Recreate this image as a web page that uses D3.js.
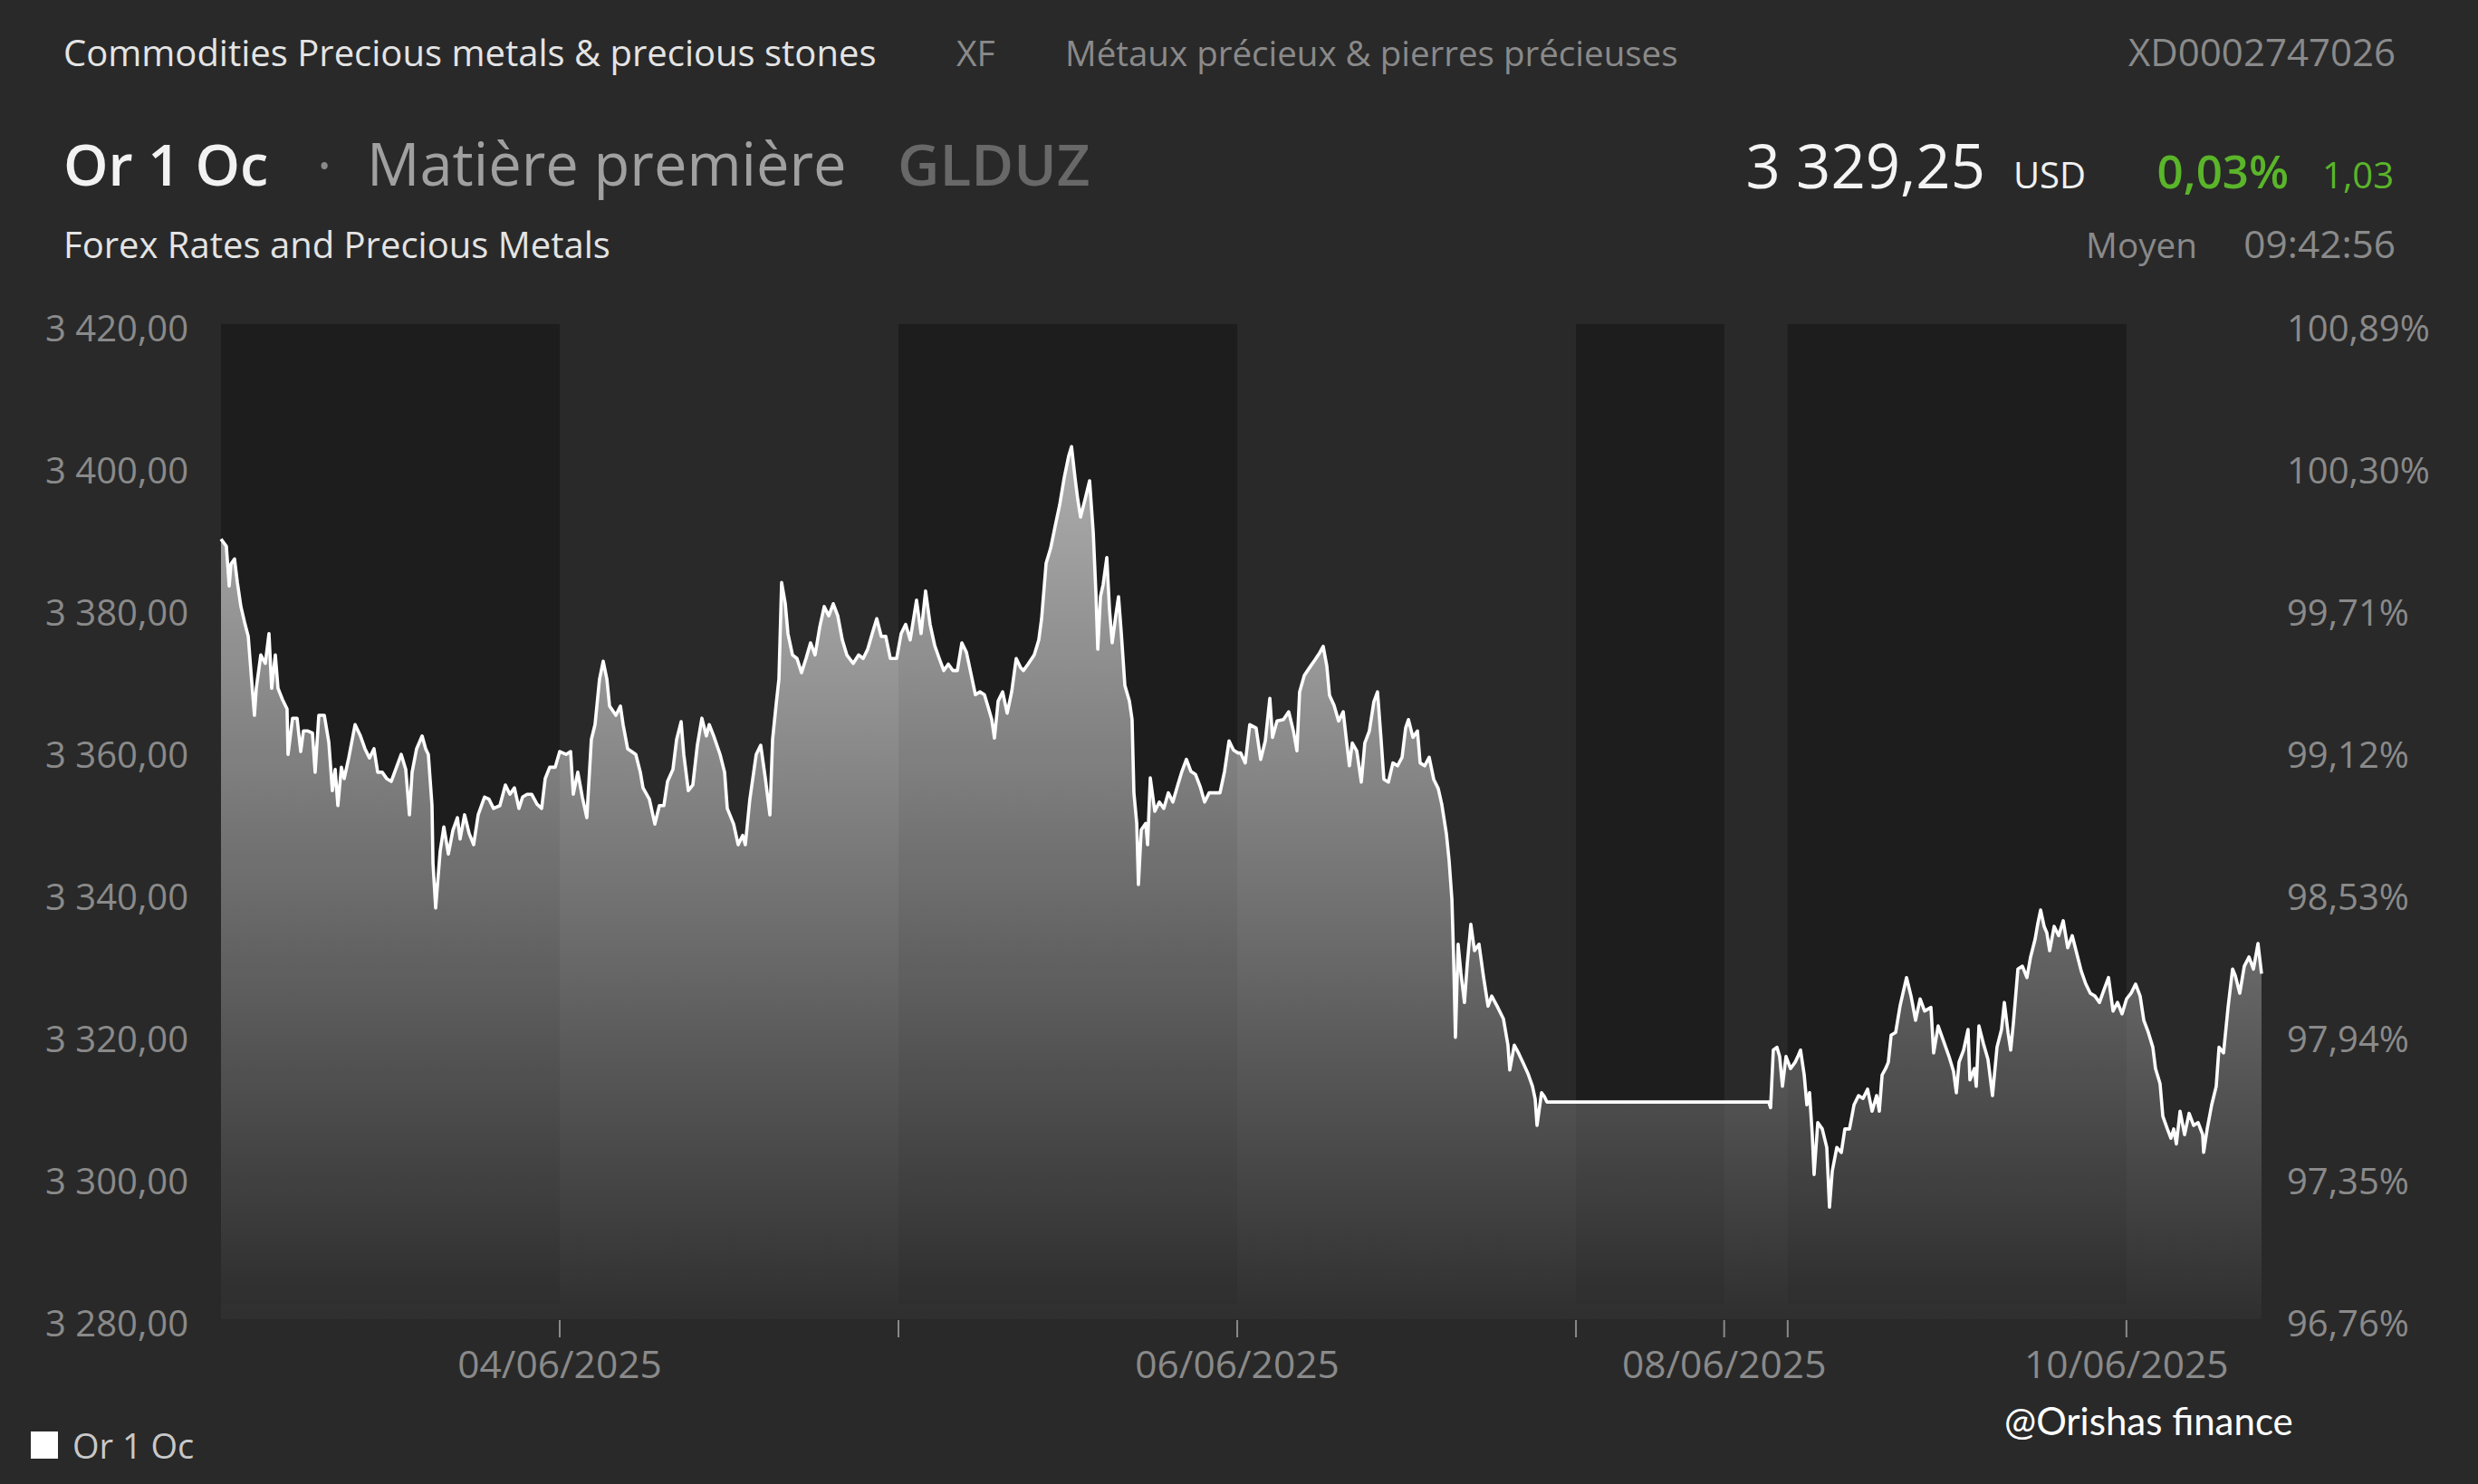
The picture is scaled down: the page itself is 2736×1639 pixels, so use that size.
<!DOCTYPE html>
<html><head><meta charset="utf-8">
<script src="https://cdn.jsdelivr.net/npm/d3@7"></script>
<style>
html,body{margin:0;padding:0;background:#292929;}
svg{display:block;}
</style></head><body>
<svg id="chart" width="2736" height="1639"></svg>
<script>
// ---- DATA ----
// x = trading-session hours since 03/06/2025 00:00 on the chart's compressed time axis
const sessionHours = [
0,0.38,0.58,0.71,0.96,1.16,1.41,1.67,1.93,2.18,2.37,2.5,2.82,3.14,3.4,3.59,3.85,4.04,4.36,4.68,4.75,5.07,5.39,5.65,5.84,6.16,6.48,6.67,6.93,7.32,7.64,7.89,8.09,8.28,8.53,8.73,9.05,9.5,9.88,10.2,10.52,10.84,11.1,11.42,11.74,12.06,12.38,12.77,13.09,13.35,13.54,13.86,14.25,14.5,14.69,14.95,15.02,15.21,15.34,15.53,15.79,16.11,16.43,16.75,16.94,17.26,17.58,17.9,18.22,18.67,18.99,19.31,19.76,20.15,20.47,20.79,21.11,21.37,21.69,22.01,22.39,22.72,22.97,23.29,23.68,24,
24.45,24.77,24.96,25.28,25.6,25.92,26.24,26.5,26.82,27.08,27.34,27.53,27.98,28.3,28.49,28.81,29.39,29.71,29.9,30.35,30.74,31.06,31.38,31.64,32.02,32.28,32.6,32.79,33.11,33.43,33.75,34.07,34.39,34.59,34.91,35.36,35.68,35.87,36.32,36.64,36.96,37.15,37.47,37.92,38.24,38.57,38.89,39.08,39.34,39.53,39.72,39.98,40.17,40.49,40.81,41.13,41.45,41.77,42.09,42.42,42.74,43.06,43.38,43.7,44.02,44.34,44.79,45.18,45.5,45.82,46.14,46.46,46.78,47.1,47.42,47.87,48.19,
48.51,48.83,49.28,49.6,49.92,50.24,50.57,50.89,51.21,51.53,51.85,52.17,52.49,52.81,53.13,53.45,53.77,54.09,54.42,54.61,54.8,55.06,55.38,55.7,56.02,56.34,56.66,56.85,57.18,57.62,57.94,58.14,58.46,58.78,59.1,59.42,59.74,60.06,60.26,60.51,60.7,60.9,61.22,61.54,61.8,61.99,62.12,62.31,62.5,62.76,62.95,63.14,63.4,63.59,63.79,64.04,64.36,64.55,64.68,64.88,65,65.2,65.52,65.65,65.84,66.16,66.48,66.8,67.12,67.44,67.76,68.08,68.4,68.72,69.04,69.37,69.69,70.01,70.33,70.78,71.1,71.42,71.74,72.06,
72.25,72.57,72.89,73.34,73.66,73.99,74.31,74.5,74.82,75.27,75.65,75.98,76.23,76.42,76.75,77.19,77.51,77.84,78.09,78.35,78.54,78.86,79.18,79.51,79.76,79.95,80.15,80.47,80.79,81.04,81.36,81.68,81.94,82.2,82.39,82.71,83.03,83.36,83.68,83.93,84.13,84.45,84.77,84.96,85.28,85.6,85.92,86.24,86.5,86.82,87.01,87.21,87.33,87.46,87.65,87.85,88.1,88.3,88.55,88.81,89.13,89.45,89.77,90.03,90.41,90.86,91.18,91.31,91.63,91.95,92.28,92.6,92.92,93.11,93.24,93.56,93.75,93.94,
109.66,109.79,109.98,110.24,110.43,110.63,110.88,111.2,111.53,111.72,111.91,112.17,112.36,112.55,112.74,112.87,113.13,113.45,113.77,113.96,114.16,114.48,114.8,115.05,115.38,115.7,116.02,116.34,116.66,116.98,117.3,117.49,117.69,117.94,118.13,118.33,118.65,118.97,119.42,119.74,120.06,120.38,
120.7,121.15,121.34,121.66,121.98,122.43,122.75,122.95,123.14,123.46,123.78,123.91,124.23,124.36,124.55,124.87,125.19,125.51,125.83,126.15,126.35,126.61,126.8,126.99,127.31,127.63,127.95,128.21,128.53,128.72,128.92,129.17,129.36,129.56,129.88,130.2,130.52,130.84,131.16,131.48,131.8,132.12,132.44,132.77,133.09,133.41,133.73,134.05,134.37,134.69,135.01,135.33,135.65,135.97,136.23,136.55,136.87,137.06,137.38,137.58,137.9,138.15,138.35,138.54,138.8,139.12,139.44,139.76,140.08,140.4,140.47,140.72,141.04,141.36,141.56,141.88,142.2,142.52,142.71,143.03,143.35,143.68,144,144.32,144.57
];
const prices = [
3390.4,3389.4,3383.8,3386.9,3387.6,3384.3,3380.9,3378.7,3376.7,3370.3,3365.6,3369.4,3374.1,3372.9,3377.1,3369.4,3374.1,3369.4,3367.8,3366.5,3360.1,3365.2,3365.2,3360.5,3363.4,3363.4,3363.1,3357.6,3365.6,3365.6,3361.8,3355.0,3358.0,3352.9,3358.3,3356.7,3359.6,3364.3,3362.7,3360.9,3359.6,3360.9,3357.6,3357.6,3356.7,3356.3,3358.0,3360.1,3358.0,3351.6,3357.6,3360.9,3362.7,3360.9,3360.1,3352.9,3344.8,3338.5,3341.8,3346.5,3349.9,3346.1,3349.4,3351.2,3348.2,3351.6,3349.0,3347.4,3351.6,3354.1,3353.8,3352.5,3352.9,3355.8,3354.5,3355.4,3352.5,3354.1,3354.5,3354.5,3353.1,3352.5,3356.7,3358.3,3358.3,3360.5,
3360.1,3360.5,3354.5,3357.6,3354.1,3351.2,3362.2,3364.3,3370.7,3373.2,3370.7,3366.9,3365.6,3366.9,3364.3,3360.9,3360.1,3357.6,3355.4,3353.8,3350.3,3352.9,3352.9,3356.3,3358.0,3362.2,3364.7,3360.1,3355.0,3355.8,3361.4,3365.2,3362.7,3364.3,3362.7,3360.1,3357.6,3352.5,3350.3,3347.4,3348.7,3347.4,3353.8,3360.1,3361.4,3356.7,3351.6,3362.2,3367.3,3370.7,3384.3,3381.3,3377.1,3374.1,3373.6,3371.6,3373.6,3375.8,3374.1,3378.0,3380.9,3379.6,3381.3,3379.6,3376.2,3374.1,3372.9,3374.1,3373.6,3374.9,3377.1,3379.2,3376.7,3376.7,3373.6,3373.6,3377.1,
3378.4,3376.2,3381.8,3377.1,3383.1,3378.4,3375.4,3373.6,3371.9,3372.8,3371.9,3371.9,3375.8,3374.5,3371.5,3368.5,3368.9,3368.5,3366.3,3365.0,3362.4,3367.6,3368.9,3365.9,3368.9,3373.6,3372.3,3371.9,3372.8,3374.1,3376.2,3379.2,3387.0,3389.1,3392.2,3395.2,3399.0,3402.1,3403.4,3399.0,3396.0,3393.5,3396.0,3398.6,3391.3,3382.7,3374.9,3382.3,3384.0,3387.8,3380.5,3375.8,3379.7,3382.3,3377.1,3369.8,3367.6,3365.0,3354.7,3350.4,3341.8,3349.5,3350.4,3347.4,3356.8,3352.1,3353.4,3352.5,3354.7,3353.4,3355.6,3357.7,3359.4,3357.7,3357.3,3355.6,3353.4,3354.7,3354.7,3354.7,3357.7,3362.0,3360.7,3360.3,
3360.3,3358.9,3364.3,3363.8,3359.4,3362.0,3368.0,3362.5,3364.8,3365.0,3366.1,3363.4,3360.6,3368.9,3371.2,3372.5,3373.4,3374.4,3375.3,3372.5,3368.4,3367.0,3364.8,3366.1,3361.7,3358.5,3361.7,3360.6,3356.2,3361.7,3363.4,3367.5,3368.9,3362.0,3356.6,3356.2,3358.9,3358.5,3359.7,3363.8,3365.0,3362.5,3363.4,3358.9,3358.5,3359.7,3356.6,3355.3,3353.0,3348.9,3345.2,3339.7,3331.6,3320.3,3333.4,3329.3,3325.2,3330.7,3336.2,3332.5,3333.4,3328.8,3324.7,3326.1,3324.7,3322.9,3319.2,3315.7,3319.2,3318.0,3316.6,3315.2,3313.4,3311.6,3307.9,3312.5,3312.0,3311.2,
3311.2,3310.4,3318.5,3318.9,3317.6,3313.4,3317.6,3315.9,3316.8,3317.6,3318.5,3315.0,3310.8,3312.5,3306.6,3301.0,3308.3,3307.4,3304.8,3296.4,3301.5,3304.8,3304.1,3307.4,3307.4,3310.8,3312.1,3311.7,3313.0,3309.9,3312.1,3309.9,3315.0,3315.9,3316.8,3320.6,3321.0,3324.8,3328.7,3326.1,3322.7,3325.7,
3324.0,3324.5,3318.1,3321.9,3320.1,3317.6,3315.5,3312.5,3316.8,3318.5,3321.4,3314.3,3315.9,3313.4,3321.9,3319.4,3317.2,3312.1,3318.9,3321.4,3325.2,3321.0,3318.5,3322.3,3329.9,3330.3,3328.7,3331.6,3334.1,3336.3,3338.2,3335.9,3335.0,3332.5,3335.9,3334.6,3336.7,3332.9,3334.6,3332.1,3329.6,3327.8,3326.5,3326.1,3325.2,3327.0,3328.7,3324.0,3325.2,3323.6,3325.7,3326.5,3327.8,3326.1,3322.7,3321.0,3318.9,3315.9,3313.8,3309.2,3307.4,3306.1,3307.4,3305.3,3309.9,3306.6,3309.6,3307.9,3308.3,3306.6,3304.1,3307.4,3310.8,3313.4,3318.9,3318.1,3324.5,3329.9,3329.0,3326.5,3330.3,3331.6,3329.9,3333.5,3329.25
];
const dayStartHours = [0, 24, 48, 72, 96, 106.5, 111, 135];
const dayLabels = ["03/06/2025","04/06/2025","05/06/2025","06/06/2025","07/06/2025","08/06/2025","09/06/2025","10/06/2025"];
const labelledDays = ["04/06/2025","06/06/2025","08/06/2025","10/06/2025"];
const sessionEndHour = 144.7;
const priceTicks = [3280, 3300, 3320, 3340, 3360, 3380, 3400, 3420];
const percentTickLabels = ["96,76%","97,35%","97,94%","98,53%","99,12%","99,71%","100,30%","100,89%"];
const seriesName = "Or 1 Oc";

// ---- LAYOUT ----
const W = 2736, H = 1639;
const plot = {left: 244, right: 2499, top: 358, bottom: 1457, darkBottom: 1440};
const FONT = "'Open Sans', Roboto, sans-serif";
const svg = d3.select("#chart");
svg.append("rect").attr("width", W).attr("height", H).attr("fill", "#292929");

const x = d3.scaleLinear().domain([0, sessionEndHour]).range([plot.left, plot.right]);
const y = d3.scaleLinear().domain([3280, 3420]).range([1462, 363]);
const fr = d3.formatLocale({decimal: ",", thousands: " ", grouping: [3], currency: ["", ""]});
const fmtPrice = fr.format(",.2f");

const data = sessionHours.map((h, i) => ({h, v: prices[i]}));

// gradient
const defs = svg.append("defs");
const grad = defs.append("linearGradient").attr("id", "areaGrad")
  .attr("gradientUnits", "userSpaceOnUse").attr("x1", 0).attr("x2", 0)
  .attr("y1", plot.top).attr("y2", plot.bottom);
grad.append("stop").attr("offset", "0%").attr("stop-color", "#cdcdcd");
grad.append("stop").attr("offset", "100%").attr("stop-color", "#2f2f2f");

// day bands
const days = dayStartHours.map((s, i) => ({label: dayLabels[i], start: s, end: i < dayStartHours.length - 1 ? dayStartHours[i + 1] : sessionEndHour, i}));
svg.append("g").selectAll("rect").data(days.filter(d => d.i % 2 === 0)).join("rect")
  .attr("x", d => x(d.start)).attr("width", d => x(d.end) - x(d.start))
  .attr("y", plot.top).attr("height", plot.darkBottom - plot.top)
  .attr("fill", "#1f1f1f");

// area + line
const area = d3.area().x(d => x(d.h)).y0(plot.bottom).y1(d => y(d.v));
const line = d3.line().x(d => x(d.h)).y(d => y(d.v));
svg.append("path").datum(data).attr("d", area).attr("fill", "url(#areaGrad)");
// dark band tint over area
svg.append("g").selectAll("rect").data(days.filter(d => d.i % 2 === 0)).join("rect")
  .attr("x", d => x(d.start)).attr("width", d => x(d.end) - x(d.start))
  .attr("y", plot.top).attr("height", plot.darkBottom - plot.top)
  .attr("fill", "#000").attr("opacity", 0.06);
svg.append("path").datum(data).attr("d", line).attr("fill", "none")
  .attr("stroke", "#ffffff").attr("stroke-width", 3.6).attr("stroke-linejoin", "round");

// left axis labels
svg.append("g").selectAll("text").data(priceTicks).join("text")
  .attr("x", 208).attr("y", d => y(d) + 14).attr("text-anchor", "end")
  .attr("font-family", FONT).attr("font-size", 40).attr("fill", "#8a8a8a")
  .text(d => fmtPrice(d));
// right axis labels
svg.append("g").selectAll("text").data(priceTicks).join("text")
  .attr("x", 2525).attr("y", d => y(d) + 14).attr("text-anchor", "start")
  .attr("font-family", FONT).attr("font-size", 40).attr("fill", "#8a8a8a")
  .text((d, i) => percentTickLabels[i]);

// x ticks at day boundaries
svg.append("g").selectAll("line").data(days.slice(1)).join("line")
  .attr("x1", d => x(d.start)).attr("x2", d => x(d.start))
  .attr("y1", 1458).attr("y2", 1477).attr("stroke", "#8a8a8a").attr("stroke-width", 2);
svg.append("g").selectAll("text").data(days.filter(d => labelledDays.includes(d.label))).join("text")
  .attr("x", d => x(d.start)).attr("y", 1522).attr("text-anchor", "middle")
  .attr("font-family", FONT).attr("font-size", 42.5).attr("fill", "#8a8a8a")
  .text(d => d.label);

// header
function txt(t, xx, yy, size, fill, opts = {}) {
  return svg.append("text").attr("x", xx).attr("y", yy).attr("font-family", opts.family || FONT)
    .attr("font-size", size).attr("fill", fill).attr("font-weight", opts.weight || 400)
    .attr("text-anchor", opts.anchor || "start").text(t);
}
txt("Commodities Precious metals & precious stones", 70, 73, 40, "#e4e4e4");
txt("XF", 1056, 73, 39, "#8a8a8a");
txt("Métaux précieux & pierres précieuses", 1176, 73, 38.5, "#8a8a8a");
txt("XD0002747026", 2645, 73, 42, "#8a8a8a", {anchor: "end"});

txt(seriesName, 70, 205, 63, "#f2f2f2", {weight: 600});
txt("·", 350, 205, 62, "#8a8a8a");
txt("Matière première", 405, 205, 65, "#a0a0a0");
txt("GLDUZ", 991, 205, 64, "#686868", {weight: 600});

txt("3 329,25", 2192, 208, 67, "#f4f4f4", {anchor: "end"});
txt("USD", 2303, 208, 40, "#f0f0f0", {anchor: "end"});
txt("0,03%", 2527, 208, 51, "#5ab52a", {anchor: "end", weight: 600});
txt("1,03", 2643, 208, 40, "#5ab52a", {anchor: "end"});

txt("Forex Rates and Precious Metals", 70, 285, 40, "#e4e4e4");
txt("Moyen", 2426, 285, 38.7, "#8a8a8a", {anchor: "end"});
txt("09:42:56", 2645, 285, 42.4, "#8a8a8a", {anchor: "end"});

// legend
svg.append("rect").attr("x", 34).attr("y", 1581).attr("width", 30).attr("height", 30).attr("fill", "#ffffff");
txt(seriesName, 80, 1611, 38, "#c8c8c8");

// watermark
txt("@Orishas finance", 2213, 1585, 42, "#ffffff", {family: "Lato, 'Open Sans', sans-serif"});
</script>
</body></html>
